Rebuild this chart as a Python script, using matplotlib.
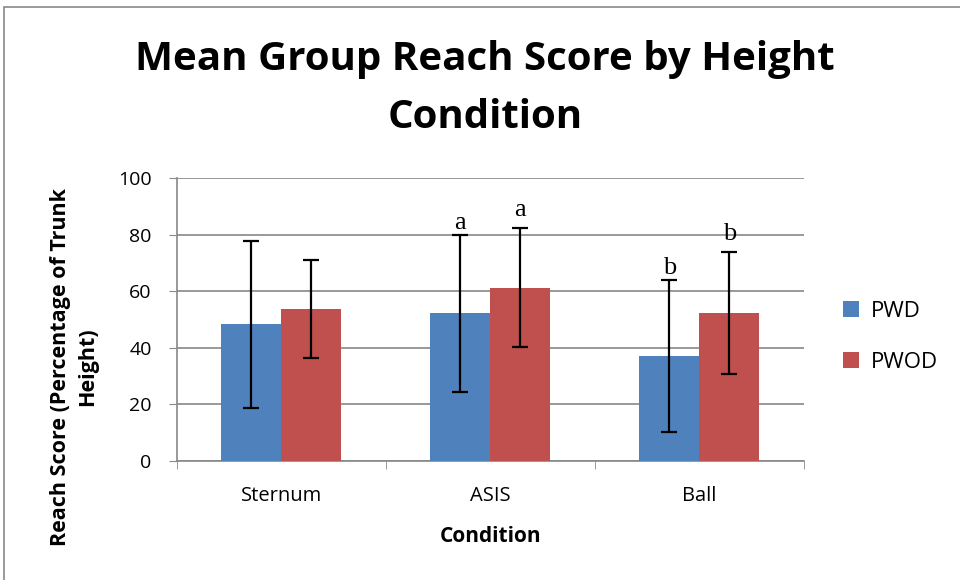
import matplotlib
matplotlib.use("Agg")
import matplotlib.pyplot as plt
import numpy as np
from matplotlib.patches import Rectangle

categories = ["Sternum", "ASIS", "Ball"]
pwd_mean = [48.3, 52.2, 37.2]
pwd_err = [29.5, 27.8, 26.8]
pwod_mean = [53.8, 61.3, 52.3]
pwod_err = [17.4, 21.0, 21.6]
pwd_marks = ["", "a", "b"]
pwod_marks = ["", "a", "b"]
yticks = [0, 20, 40, 60, 80, 100]

blue = "#4F81BD"
red = "#C0504D"
sans = ["Open Sans", "DejaVu Sans"]

fig = plt.figure(figsize=(9.6, 5.8), dpi=100)
fig.patches.append(Rectangle((0.004, -0.01), 1.1, 0.998, transform=fig.transFigure,
                             fill=False, edgecolor="#888888", linewidth=1.2))
ax = fig.add_axes([0.184, 0.205, 0.6535, 0.488])

x = np.arange(len(categories))
w = 0.287
ax.bar(x - w / 2, pwd_mean, w, color=blue, label="PWD", zorder=3)
ax.bar(x + w / 2, pwod_mean, w, color=red, label="PWOD", zorder=3)
ax.errorbar(x - w / 2, pwd_mean, yerr=pwd_err, fmt="none", ecolor="black",
            elinewidth=1.6, capsize=6, capthick=1.6, zorder=4)
ax.errorbar(x + w / 2, pwod_mean, yerr=pwod_err, fmt="none", ecolor="black",
            elinewidth=1.6, capsize=6, capthick=1.6, zorder=4)
for i in range(len(categories)):
    if pwd_marks[i]:
        ax.text(x[i] - w / 2, pwd_mean[i] + pwd_err[i] + 0.3, pwd_marks[i], ha="center",
                va="bottom", fontsize=19, family="Liberation Serif")
    if pwod_marks[i]:
        ax.text(x[i] + w / 2, pwod_mean[i] + pwod_err[i] + 2.5, pwod_marks[i], ha="center",
                va="bottom", fontsize=19, family="Liberation Serif")

ax.set_xlim(-0.5, 2.5)
ax.set_ylim(0, 100)
ax.set_yticks(yticks)
ax.set_xticks(x)
ax.set_xticklabels(categories, family=sans, fontsize=14.5)
ax.set_xticks([-0.5, 0.5, 1.5, 2.5], minor=True)
ax.tick_params(axis="x", which="major", length=0, pad=18)
ax.tick_params(axis="x", which="minor", length=6, color="#888888", direction="out")
ax.tick_params(axis="y", length=6, color="#888888", labelsize=14, pad=12)
for lab in ax.get_yticklabels():
    lab.set_family(sans)
ax.grid(axis="y", color="#888888", linewidth=1.2, zorder=0)
ax.set_axisbelow(True)
for s in ["top", "right"]:
    ax.spines[s].set_visible(False)
for s in ["left", "bottom"]:
    ax.spines[s].set_color("#888888")
    ax.spines[s].set_linewidth(1.2)

ax.set_xlabel("Condition", family=sans, fontsize=15, fontweight="bold", labelpad=14)
fig.text(0.0775, 0.367, "Reach Score (Percentage of Trunk\nHeight)", rotation=90,
         ha="center", va="center", family=sans, fontsize=15.5, fontweight="bold",
         linespacing=1.4, multialignment="center")
fig.text(0.505, 0.847, "Mean Group Reach Score by Height\nCondition", ha="center", va="center",
         family=sans, fontsize=29, fontweight="bold", linespacing=1.65)

leg = ax.legend(loc="center left", bbox_to_anchor=(1.03, 0.44), frameon=False,
                prop={"family": sans, "size": 16}, handlelength=0.75, handleheight=0.75,
                labelspacing=1.35, handletextpad=0.5)

fig.savefig("out.png", dpi=100)
